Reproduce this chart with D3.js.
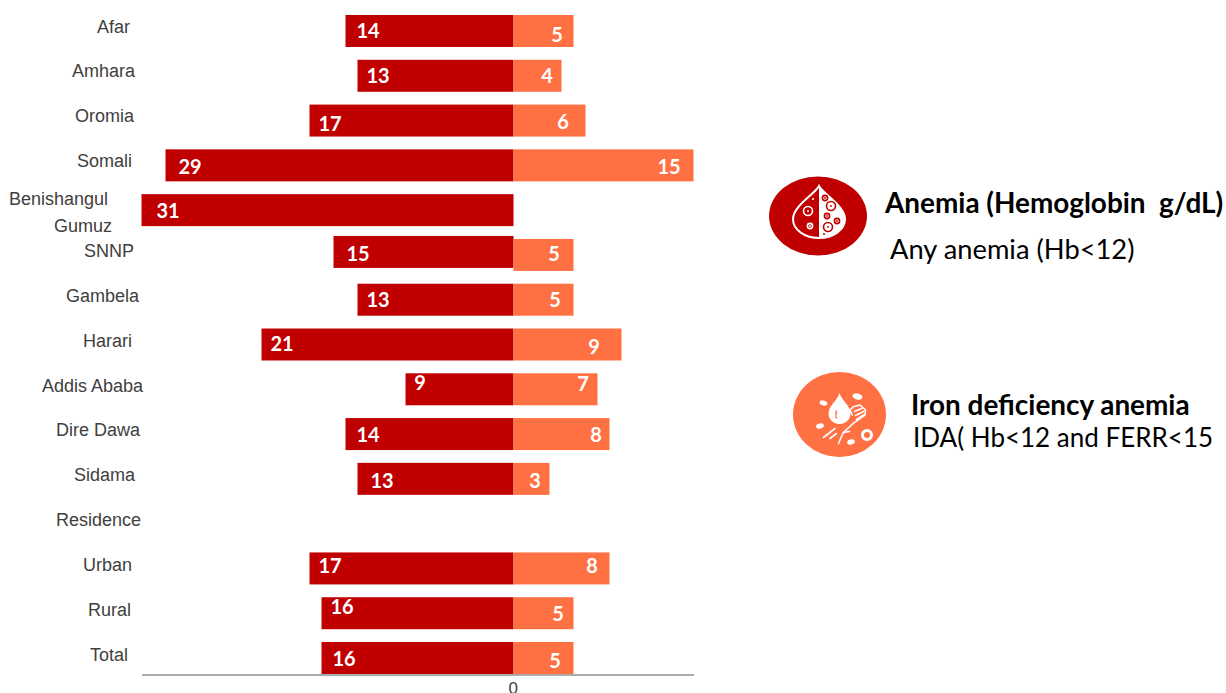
<!DOCTYPE html>
<html>
<head>
<meta charset="utf-8">
<script src="https://cdn.jsdelivr.net/npm/d3@7/dist/d3.min.js"></script>
<style>
  html, body { margin: 0; padding: 0; background: #fff; }
  svg { display: block; }
  .cat { font: 18px "Liberation Sans", Arial, sans-serif; fill: #404040; }
  .val { font: 700 20px Lato, sans-serif; fill: #fff; }
  .legend-title { font: 700 27.9px Lato, sans-serif; fill: #000; white-space: pre; }
  .legend-sub { font: 27.3px Lato, sans-serif; fill: #000; white-space: pre; }
</style>
</head>
<body>
<svg id="chart" width="1226" height="693"></svg>
<script>
// Regional prevalence of anemia and iron deficiency anemia (%)
const categories = ["Afar", "Amhara", "Oromia", "Somali", "Benishangul Gumuz", "SNNP", "Gambela",
  "Harari", "Addis Ababa", "Dire Dawa", "Sidama", "Residence", "Urban", "Rural", "Total"];
const anemia = [14, 13, 17, 29, 31, 15, 13, 21, 9, 14, 13, null, 17, 16, 16];
const ida = [5, 4, 6, 15, null, 5, 5, 9, 7, 8, 3, null, 8, 5, 5];
const axisTicks = [0];

const svg = d3.select("#chart");
const x = d3.scaleLinear().domain([-31, 15]).range([141.5, 693.5]);
const y = d3.scaleBand().domain(categories).range([15, 674]).paddingInner(0.2857).paddingOuter(0);

const rows = categories.map((name, i) => ({ name, anemia: anemia[i], ida: ida[i] }));

// Bars grow out from the shared zero line, anemia to the left
svg.append("g").selectAll("rect").data(rows.filter(d => d.anemia != null)).join("rect")
  .attr("x", d => x(-d.anemia)).attr("y", d => y(d.name) + (d.name === "SNNP" ? -3 : 0))
  .attr("width", d => x(0) - x(-d.anemia)).attr("height", y.bandwidth())
  .attr("fill", "#c00000");
svg.append("g").selectAll("rect").data(rows.filter(d => d.ida != null)).join("rect")
  .attr("x", x(0)).attr("y", d => y(d.name))
  .attr("width", d => x(d.ida) - x(0)).attr("height", y.bandwidth())
  .attr("fill", "#ff7043");

// Value labels, placed by hand inside their bars
const redLabelX = { Afar: 368, Amhara: 378, Oromia: 330, Somali: 190, "Benishangul Gumuz": 168, SNNP: 358, Gambela: 378,
  Harari: 282, "Addis Ababa": 420, "Dire Dawa": 368, Sidama: 382, Urban: 330, Rural: 342, Total: 344 };
const redDy = { Afar: 1.5, Amhara: 1.5, Oromia: 4.5, Somali: 2.5, "Benishangul Gumuz": 1.5, SNNP: 0.5, Gambela: 1.5, Harari: 0.5,
  "Addis Ababa": -5.5, "Dire Dawa": 1.5, Sidama: 3.5, Urban: -1.5, Rural: -5.5, Total: 1.5 };
const idaLabelX = { Afar: 557, Amhara: 547, Oromia: 563, Somali: 669, SNNP: 554, Gambela: 555, Harari: 594,
  "Addis Ababa": 583, "Dire Dawa": 596, Sidama: 535, Urban: 592, Rural: 558, Total: 555 };
const idaDy = { Afar: 5.5, Amhara: 1.5, Oromia: 2.5, Somali: 2.5, SNNP: 0.5, Gambela: 1.5, Harari: 3.5, "Addis Ababa": -4.5,
  "Dire Dawa": 1.5, Sidama: 3.5, Urban: -1.5, Rural: 1.5, Total: 3.5 };

svg.append("g").selectAll("text").data(rows.filter(d => d.anemia != null)).join("text")
  .attr("class", "val").attr("text-anchor", "middle")
  .attr("x", d => redLabelX[d.name])
  .attr("y", d => y(d.name) + y.bandwidth() / 2 + 6 + redDy[d.name])
  .text(d => d.anemia);
svg.append("g").selectAll("text").data(rows.filter(d => d.ida != null)).join("text")
  .attr("class", "val").attr("text-anchor", "middle")
  .attr("x", d => idaLabelX[d.name])
  .attr("y", d => y(d.name) + y.bandwidth() / 2 + 6 + idaDy[d.name])
  .text(d => d.ida);

// Category labels, right aligned with individual offsets
const catRight = { Afar: 130, Amhara: 135, Oromia: 134, Somali: 132, SNNP: 134, Gambela: 139, Harari: 132,
  "Addis Ababa": 143, "Dire Dawa": 140, Sidama: 135, Residence: 141, Urban: 132, Rural: 131, Total: 128 };
const catDy = { Afar: -4, Amhara: -5, Oromia: -5, Somali: -4, SNNP: -4, Gambela: -4, Harari: -4, "Addis Ababa": -3,
  "Dire Dawa": -4, Sidama: -4, Residence: -4, Urban: -3, Rural: -3, Total: -3 };
const catG = svg.append("g");
rows.forEach(d => {
  const base = y(d.name) + y.bandwidth() / 2 + 6;
  if (d.name === "Benishangul Gumuz") {
    catG.append("text").attr("class", "cat").attr("text-anchor", "end").attr("x", 108).attr("y", 205).text("Benishangul");
    catG.append("text").attr("class", "cat").attr("text-anchor", "end").attr("x", 112).attr("y", 232).text("Gumuz");
  } else {
    catG.append("text").attr("class", "cat").attr("text-anchor", "end")
      .attr("x", catRight[d.name]).attr("y", base + catDy[d.name]).text(d.name);
  }
});

// Bottom axis: a rule and the zero tick
const axis = svg.append("g").attr("transform", "translate(0,674.5)")
  .call(d3.axisBottom(x).tickValues(axisTicks).tickSize(0).tickFormat(d3.format("d")));
axis.select(".domain").attr("stroke", "#595959").attr("stroke-width", 1.2);
axis.selectAll("text").attr("dy", 0).attr("dx", -0.8).attr("y", 19).attr("fill", "#404040")
  .style("font", '17px "Liberation Sans", Arial, sans-serif');

// Droplet with blood cells on a red disc
const anemiaIcon = svg.append("g").attr("transform", "translate(818,216)");
anemiaIcon.append("ellipse").attr("rx", 49).attr("ry", 39.5).attr("fill", "#c00000");
anemiaIcon.append("path").attr("d", "M1,-30 C-3,-22 -25,-10 -25,3 C-25,14 -13,22 1,22 C15,22 27,14 27,3 C27,-10 5,-22 1,-30 Z")
  .attr("fill", "none").attr("stroke", "#fff").attr("stroke-width", 2);
anemiaIcon.append("path").attr("d", "M1,-30 C5,-22 27,-10 27,3 C27,14 15,22 1,22 Z").attr("fill", "#fff");
[[-10, -5, 4.5, 1], [-8, 10, 2.6, 1], [7, -18, 2.6, 0], [13, -10, 4.5, 0], [9, 0, 2.6, 0], [19, 5, 2.6, 0], [10, 11, 4.5, 0]].forEach(([cx, cy, r, onRed]) => {
  anemiaIcon.append("circle").attr("cx", cx).attr("cy", cy).attr("r", r)
    .attr("fill", "none").attr("stroke", onRed ? "#fff" : "#c00000").attr("stroke-width", 1.6);
  anemiaIcon.append("circle").attr("cx", cx).attr("cy", cy).attr("r", 0.9).attr("fill", onRed ? "#fff" : "#c00000");
});
anemiaIcon.append("circle").attr("cx", -5).attr("cy", -17).attr("r", 1).attr("fill", "#fff");
anemiaIcon.append("circle").attr("cx", 6).attr("cy", 18).attr("r", 1).attr("fill", "#c00000");

// Droplet over an open hand on an orange disc
const idaIcon = svg.append("g").attr("transform", "translate(839.5,414.5)");
idaIcon.append("ellipse").attr("rx", 46.5).attr("ry", 42.5).attr("fill", "#ff7043");
idaIcon.append("path").attr("d", "M0,-21.5 C-2,-14 -11,-9 -11,-1 C-11,5 -6,9.5 0,9.5 C6,9.5 11,5 11,-1 C11,-9 2,-14 0,-21.5 Z").attr("fill", "#fff");
idaIcon.append("path").attr("d", "M-3,-4 C-4,-1 -4,1 -3,4").attr("fill", "none").attr("stroke", "#ff7043").attr("stroke-width", 1.5);
idaIcon.append("path")
  .attr("d", "M-1,29 L3.8,18 L13.8,8.8 L25.5,0.5 L26,-4.5 L20.5,-9.5 L13.8,-7.8 L10.5,-4.5 L12.8,0.5 M15,-3 L22,-6 M16,1 L24,-3 M17,5 L25,0 M3.8,18 L10,17 M-16,23 L-4.5,14 M-9.5,24 L-3,19")
  .attr("fill", "none").attr("stroke", "#fff").attr("stroke-width", 1.6).attr("stroke-linecap", "round").attr("stroke-linejoin", "round");
[[18, -18, 5, 3, 15], [-16, -11.5, 4, 2.5, 20], [-19.5, 11.5, 4, 2.5, -15], [11.5, 27.5, 4, 2.5, -15]].forEach(([cx, cy, rx, ry, a]) => {
  idaIcon.append("ellipse").attr("rx", rx).attr("ry", ry).attr("fill", "#fff")
    .attr("transform", `translate(${cx},${cy}) rotate(${a})`);
});
idaIcon.append("circle").attr("cx", 27.5).attr("cy", 20.5).attr("r", 4.5).attr("fill", "none").attr("stroke", "#fff").attr("stroke-width", 3);

// Legend text
svg.append("text").attr("class", "legend-title").attr("x", 885).attr("y", 212.5).text("Anemia (Hemoglobin  g/dL)");
svg.append("text").attr("class", "legend-sub").attr("x", 890).attr("y", 259).text("Any anemia (Hb<12)");
svg.append("text").attr("class", "legend-title").attr("x", 911).attr("y", 414.5).text("Iron deficiency anemia");
svg.append("text").attr("class", "legend-sub").style("font-size", "26px").attr("x", 913).attr("y", 447).text("IDA( Hb<12 and FERR<15");
</script>
</body>
</html>
